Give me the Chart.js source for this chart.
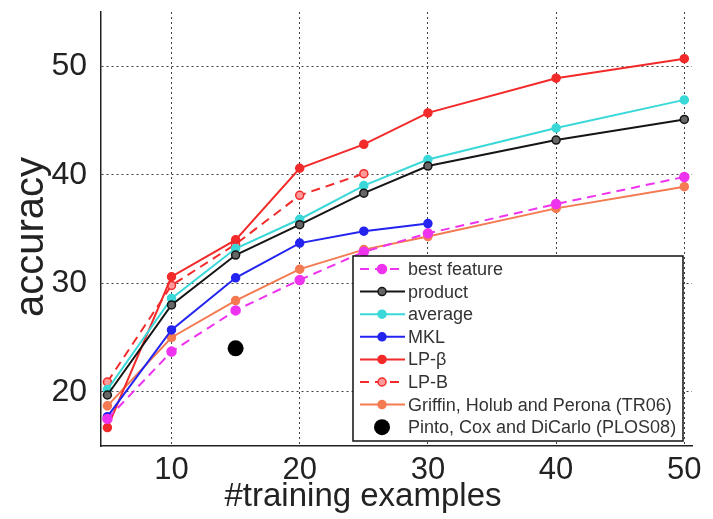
<!DOCTYPE html>
<html>
<head>
<meta charset="utf-8">
<script src="https://cdn.jsdelivr.net/npm/chart.js@4"></script>
<style>
  html, body { margin: 0; padding: 0; background: #fff; }
  #wrap { width: 713px; height: 519px; }
</style>
</head>
<body>
<div id="wrap"><canvas id="c" width="713" height="519"></canvas></div>
<script>
// Number of training examples per class
const trainingSizes = [5, 10, 15, 20, 25, 30, 40, 50];

// Mean accuracy (%) per method
const bestFeature = [17.5, 23.7, 27.5, 30.3, 32.9, 34.6, 37.3, 39.8];
const product     = [19.7, 28.0, 32.6, 35.4, 38.3, 40.8, 43.2, 45.1];
const average     = [20.2, 28.6, 33.2, 35.9, 39.0, 41.4, 44.3, 46.9];
const mkl         = [17.7, 25.7, 30.5, 33.7, 34.8, 35.5];
const lpBeta      = [16.7, 30.6, 34.0, 40.6, 42.8, 45.7, 48.9, 50.7];
const lpB         = [20.9, 29.8, 33.6, 38.1, 40.1];
const griffin     = [18.7, 25.0, 28.4, 31.3, 33.1, 34.3, 36.9, 38.9];
const pintoSize   = [15];
const pinto       = [24.0];

// Axis ticks
const xTicks = [10, 20, 30, 40, 50];
const yTicks = [20, 30, 40, 50];

const pts = (xs, ys) => ys.map((y, i) => ({ x: xs[i], y }));

function series(label, values, color, opts = {}) {
  return Object.assign({
    label,
    data: pts(trainingSizes, values),
    borderColor: color,
    backgroundColor: color,
    pointBackgroundColor: color,
    pointBorderColor: color,
    borderWidth: 2,
    pointRadius: 4,
    pointBorderWidth: 1.5,
    showLine: true,
    tension: 0,
    fill: false
  }, opts);
}

const datasets = [
  series('best feature', bestFeature, '#ee33ee', { borderDash: [9, 6], pointRadius: 4.5 }),
  series('product', product, '#151515', { pointBackgroundColor: '#666666' }),
  series('average', average, '#3ad8d8'),
  series('MKL', mkl, '#2424f0'),
  series('LP-β', lpBeta, '#f22a2a'),
  series('LP-B', lpB, '#f22a2a', { borderDash: [9, 6], pointBackgroundColor: '#ff9a9a' }),
  series('Griffin, Holub and Perona (TR06)', griffin, '#f47a52'),
  {
    label: 'Pinto, Cox and DiCarlo (PLOS08)',
    data: pts(pintoSize, pinto),
    borderColor: '#000',
    backgroundColor: '#000',
    pointBackgroundColor: '#000',
    pointBorderColor: '#000',
    pointRadius: 8,
    borderWidth: 0,
    showLine: false
  }
];

const FONT = '"Liberation Sans", Arial, Helvetica, sans-serif';

// Boxed legend with line + marker samples, drawn in the lower right of the plot
const boxLegend = {
  id: 'boxLegend',
  afterDatasetsDraw(chart) {
    const { ctx, chartArea } = chart;
    const w = 330, h = 185;
    const x0 = chartArea.right - 9 - w;
    const y0 = chartArea.bottom - 5 - h;
    ctx.save();
    ctx.fillStyle = '#fff';
    ctx.fillRect(x0, y0, w, h);
    ctx.lineWidth = 1.5;
    ctx.strokeStyle = '#111';
    ctx.strokeRect(x0, y0, w, h);
    ctx.font = '18px ' + FONT;
    ctx.textBaseline = 'middle';
    chart.data.datasets.forEach((ds, i) => {
      const cy = y0 + 13 + i * 22.6;
      const lx1 = x0 + 7, lx2 = x0 + 52, mx = x0 + 29;
      if (ds.showLine !== false) {
        ctx.save();
        ctx.strokeStyle = ds.borderColor;
        ctx.lineWidth = ds.borderWidth;
        ctx.setLineDash(ds.borderDash || []);
        ctx.beginPath();
        ctx.moveTo(lx1, cy);
        ctx.lineTo(lx2, cy);
        ctx.stroke();
        ctx.restore();
      }
      ctx.beginPath();
      ctx.arc(mx, cy, ds.pointRadius, 0, Math.PI * 2);
      ctx.fillStyle = ds.pointBackgroundColor;
      ctx.fill();
      if (ds.pointBorderWidth) {
        ctx.lineWidth = ds.pointBorderWidth;
        ctx.strokeStyle = ds.pointBorderColor;
        ctx.stroke();
      }
      ctx.fillStyle = '#333';
      ctx.fillText(ds.label, x0 + 55, cy + 1);
    });
    ctx.restore();
  }
};

// Axis titles
const axisTitles = {
  id: 'axisTitles',
  afterDraw(chart) {
    const { ctx, chartArea } = chart;
    ctx.save();
    ctx.fillStyle = '#222';
    ctx.textAlign = 'center';
    ctx.textBaseline = 'middle';
    ctx.font = '33px ' + FONT;
    ctx.fillText('#training examples', 363, 497);
    ctx.font = '40px ' + FONT;
    ctx.translate(32, 237);
    ctx.rotate(-Math.PI / 2);
    ctx.fillText('accuracy', 0, 0);
    ctx.restore();
  }
};

new Chart(document.getElementById('c'), {
  type: 'scatter',
  data: { datasets },
  options: {
    responsive: false,
    animation: false,
    devicePixelRatio: 1,
    layout: { padding: { left: 0, top: 12, right: 21, bottom: 0 } },
    plugins: { legend: { display: false }, tooltip: { enabled: false } },
    scales: {
      x: {
        type: 'linear',
        min: 4.5,
        max: 50.6,
        afterBuildTicks: s => { s.ticks = xTicks.map(v => ({ value: v })); },
        afterFit: s => { s.height = 73; s.paddingLeft = 0; s.paddingRight = 0; },
        ticks: { color: '#222', font: { family: FONT, size: 31 }, padding: 6 },
        grid: { color: 'rgba(0,0,0,0.75)', lineWidth: 1, drawTicks: false },
        border: { display: true, color: '#222', width: 1.5, dash: [2, 3] }
      },
      y: {
        type: 'linear',
        min: 15,
        max: 55,
        afterBuildTicks: s => { s.ticks = yTicks.map(v => ({ value: v })); },
        afterFit: s => { s.width = 101; s.paddingTop = 0; s.paddingBottom = 0; },
        ticks: { color: '#222', font: { family: FONT, size: 32 }, padding: 14 },
        grid: { color: 'rgba(0,0,0,0.75)', lineWidth: 1, drawTicks: false },
        border: { display: true, color: '#222', width: 1.5, dash: [2, 3] }
      }
    }
  },
  plugins: [boxLegend, axisTitles]
});
</script>
</body>
</html>
